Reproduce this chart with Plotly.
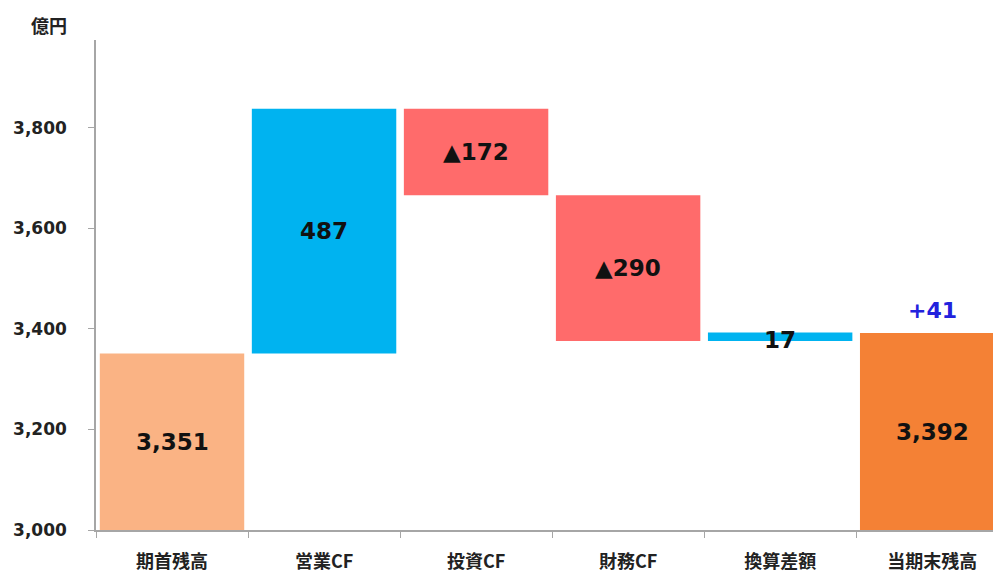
import plotly.graph_objects as go

categories = ["期首残高", "営業CF", "投資CF", "財務CF", "換算差額", "当期末残高"]
changes = [3351, 487, -172, -290, 17, 3392]
kinds = ["total", "delta", "delta", "delta", "delta", "total"]
labels = ["3,351", "487", "▲172", "▲290", "17", "3,392"]
colors = ["#FAB384", "#00B3F0", "#FF6B6B", "#FF6B6B", "#00B3F0", "#F48135"]
extra_label = "+41"
y_ticks = [3000, 3200, 3400, 3600, 3800]
y_min, y_max = 3000, 3975

bases, heights = [], []
running = 0
for v, k in zip(changes, kinds):
    if k == "total":
        bases.append(y_min)
        heights.append(v - y_min)
        running = v
    else:
        lo = min(running, running + v)
        bases.append(lo)
        heights.append(abs(v))
        running += v

fig = go.Figure()
fig.add_trace(go.Bar(
    x=categories, y=heights, base=bases, marker=dict(color=colors, line=dict(width=0)),
    width=0.95, hoverinfo="skip", showlegend=False,
))

num_font = "DejaVu Sans, Verdana, sans-serif"
cjk_font = "Noto Sans CJK JP, Noto Sans, sans-serif"
for c, b, h, t in zip(categories, bases, heights, labels):
    ymid = b + h / 2
    if h < 30:
        ymid = b + h / 2 - 6
    fig.add_annotation(x=c, y=ymid, text=t, showarrow=False,
                       font=dict(size=23, color="#111111", family=num_font, weight="bold"))
fig.add_annotation(x=categories[-1], y=bases[-1] + heights[-1], yshift=22, text=extra_label,
                   showarrow=False, font=dict(size=22, color="#2222DD", family=num_font, weight="bold"))
fig.add_annotation(xref="paper", yref="paper", x=-0.052, y=1.0, yshift=30, xanchor="center",
                   text="億円", showarrow=False,
                   font=dict(size=18, color="#222222", family=cjk_font, weight="bold"))

fig.update_layout(
    width=993, height=574, margin=dict(l=96, r=0, t=40, b=44),
    plot_bgcolor="white", paper_bgcolor="white", bargap=0.05,
    font=dict(family=cjk_font),
)
fig.update_xaxes(range=[-0.5, 5.40], showline=True, linecolor="#A6A6A6", linewidth=1.5,
                 ticks="outside", tickson="boundaries", ticklen=6, tickcolor="#A6A6A6",
                 tickfont=dict(size=18, color="#222222", family=cjk_font, weight="bold"),
                 ticklabelstandoff=15, showgrid=False)
fig.update_yaxes(range=[y_min, y_max], tickvals=y_ticks, tickformat=",", showline=True,
                 linecolor="#A6A6A6", linewidth=1.5, ticks="outside", ticklen=6, tickcolor="#A6A6A6",
                 tickfont=dict(size=17, color="#222222", family=num_font, weight="bold"),
                 ticklabelstandoff=18, showgrid=False, zeroline=False)

fig.write_html("out.html")
